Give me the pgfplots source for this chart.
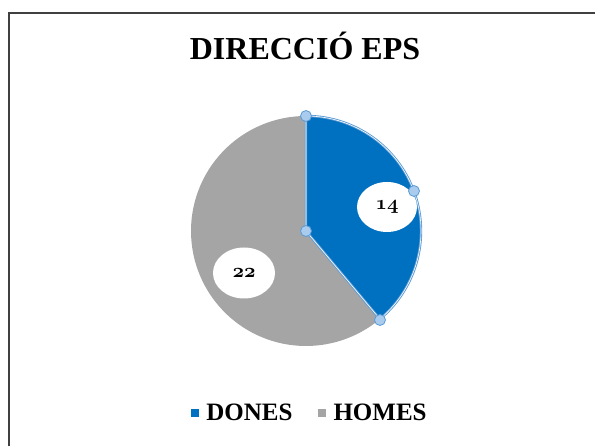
\documentclass[border=0pt]{standalone}
\usepackage{fontspec}
\setmainfont{Liberation Serif}
\usepackage{graphicx}
\usepackage{pgfplots}
\pgfplotsset{compat=1.18}
\usetikzlibrary{shapes.geometric}
\definecolor{xblue}{HTML}{0070C0}
\definecolor{xgray}{HTML}{A5A5A5}
\definecolor{selblue}{HTML}{5B9BD5}
\definecolor{handle}{HTML}{A9CCEE}
\newcommand\vDones{14}
\newcommand\vHomes{22}
\newcommand\numfont[1]{\scalebox{2.0}{\usefont{OML}{cmm}{b}{it}#1}}
\begin{document}
\begin{tikzpicture}
\begin{axis}[
 name=main,
 scale only axis, width=595pt, height=446pt,
 xmin=0,xmax=595,ymin=-446,ymax=0,
 hide axis, clip=false,
 legend columns=2,
 legend style={at={(axis cs:310,-413)},anchor=center,draw=none,fill=none,
   font=\fontsize{25}{28}\selectfont\bfseries,
   /tikz/every odd column/.append style={column sep=6pt},
   /tikz/every even column/.append style={column sep=24pt}},
 legend cell align=left,
]
\pgfmathsetmacro\tot{\vDones+\vHomes}
\pgfmathsetmacro\angA{90-360*\vDones/\tot}
% frame
\draw[line width=1.8pt, color=black!75] (9,-446) -- (9,-13) -- (595,-13);
% gray slice
\addplot[forget plot, draw=none, fill=xgray, domain=\angA:-270, samples=120, variable=\t]
  ({306+115*cos(t)},{-231+115*sin(t)}) -- (306,-231) -- cycle;
% blue slice
\addplot[forget plot, draw=none, fill=xblue, domain=90:\angA, samples=80, variable=\t]
  ({306+115*cos(t)},{-231+115*sin(t)}) -- (306,-231) -- cycle;
\addplot[forget plot, draw=selblue, line width=0.9pt, double=white, double distance=0.6pt, domain=90:\angA, samples=80, variable=\t]
  ({306+115*cos(t)},{-231+115*sin(t)}) -- (306,-231) -- cycle;
% data labels
\node[ellipse, fill=white, minimum width=60pt, minimum height=50pt, inner sep=0pt] at (387,-207) {\numfont{\vDones}};
\node[ellipse, fill=white, minimum width=62pt, minimum height=51pt, inner sep=0pt] at (244,-273) {\numfont{\vHomes}};
% selection handles
\addplot[forget plot, only marks, mark=*, mark size=5.5pt, mark options={fill=handle, draw=selblue, line width=0.8pt}]
  coordinates {(306,-116) (414,-191) (380,-320) (306,-231)};
% title
\node[anchor=base, font=\fontsize{32}{36}\selectfont\bfseries] at (305,-60) {DIRECCIÓ EPS};
% legend
\addlegendimage{only marks, mark=square*, mark size=3.5pt, color=xblue}
\addlegendentry{DONES}
\addlegendimage{only marks, mark=square*, mark size=3.5pt, color=xgray}
\addlegendentry{HOMES}
\end{axis}
\pgfresetboundingbox
\useasboundingbox (main.south west) rectangle (main.north east);
\end{tikzpicture}
\end{document}
